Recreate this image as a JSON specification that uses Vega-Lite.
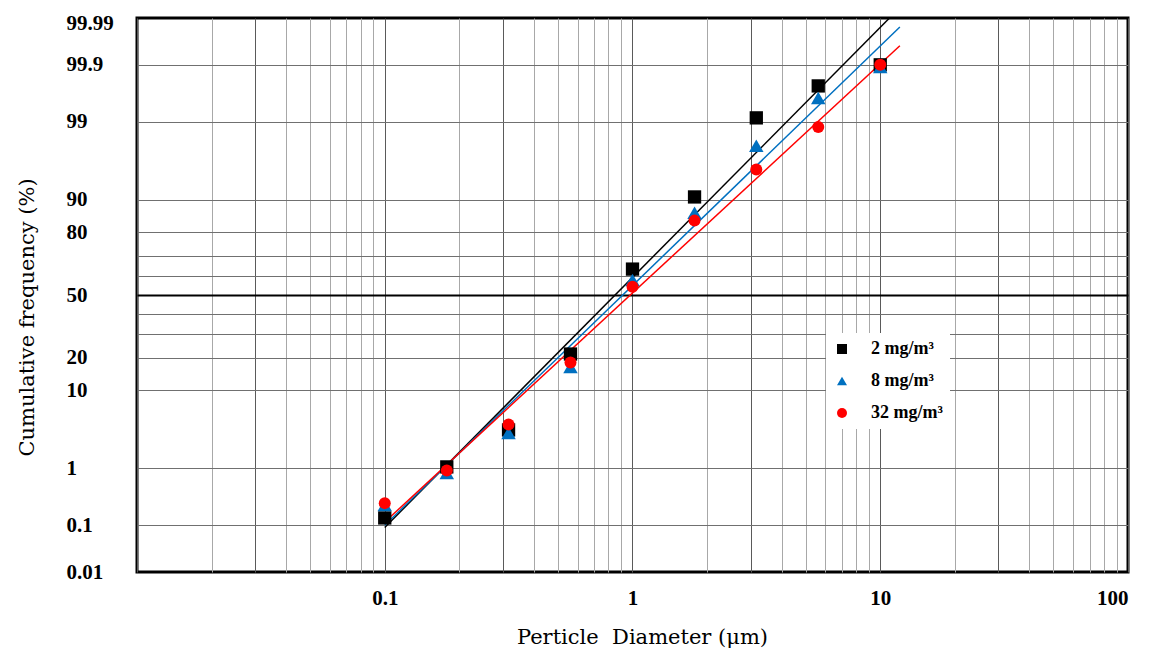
{
  "$schema": "https://vega.github.io/schema/vega-lite/v6.json",
  "width": 991,
  "height": 554,
  "autosize": {"type": "none"},
  "padding": {"left": 137, "top": 18, "right": 21, "bottom": 76},
  "background": "white",
  "config": {
    "view": {"stroke": "#000000", "strokeWidth": 3},
    "font": "Liberation Serif",
    "legend": {
      "orient": "none", "legendX": 689, "legendY": 315,
      "fillColor": "#ffffff", "padding": 7, "symbolSize": 100, "labelOffset": 20, "rowPadding": 14,
      "labelFont": "Liberation Serif", "labelFontWeight": "bold", "labelFontSize": 18, "labelColor": "#000000",
      "symbolStrokeWidth": 0
    }
  },
  "datasets": {
    "points": [
      {"series": "2 mg/m³", "d": 0.1, "p": 0.138},
      {"series": "2 mg/m³", "d": 0.178, "p": 1.05},
      {"series": "2 mg/m³", "d": 0.316, "p": 3.5},
      {"series": "2 mg/m³", "d": 0.562, "p": 21.4},
      {"series": "2 mg/m³", "d": 1, "p": 63.6},
      {"series": "2 mg/m³", "d": 1.78, "p": 90.6},
      {"series": "2 mg/m³", "d": 3.16, "p": 99.13},
      {"series": "2 mg/m³", "d": 5.62, "p": 99.75},
      {"series": "2 mg/m³", "d": 10, "p": 99.9},
      {"series": "8 mg/m³", "d": 0.1, "p": 0.24},
      {"series": "8 mg/m³", "d": 0.178, "p": 0.84},
      {"series": "8 mg/m³", "d": 0.316, "p": 3.2},
      {"series": "8 mg/m³", "d": 0.562, "p": 16.7},
      {"series": "8 mg/m³", "d": 1, "p": 58},
      {"series": "8 mg/m³", "d": 1.78, "p": 86.5},
      {"series": "8 mg/m³", "d": 3.16, "p": 97.75},
      {"series": "8 mg/m³", "d": 5.62, "p": 99.59},
      {"series": "8 mg/m³", "d": 10, "p": 99.89},
      {"series": "32 mg/m³", "d": 0.1, "p": 0.26},
      {"series": "32 mg/m³", "d": 0.178, "p": 0.92},
      {"series": "32 mg/m³", "d": 0.316, "p": 4.1},
      {"series": "32 mg/m³", "d": 0.562, "p": 18.2},
      {"series": "32 mg/m³", "d": 1, "p": 54.4},
      {"series": "32 mg/m³", "d": 1.78, "p": 84.1},
      {"series": "32 mg/m³", "d": 3.16, "p": 95.4},
      {"series": "32 mg/m³", "d": 5.62, "p": 98.8},
      {"series": "32 mg/m³", "d": 10, "p": 99.9}
    ],
    "fits": [
      {"series": "2 mg/m³", "d": 0.1, "p": 0.09},
      {"series": "2 mg/m³", "d": 10.9, "p": 99.99},
      {"series": "8 mg/m³", "d": 0.1, "p": 0.1},
      {"series": "8 mg/m³", "d": 12.0, "p": 99.984},
      {"series": "32 mg/m³", "d": 0.1, "p": 0.115},
      {"series": "32 mg/m³", "d": 12.0, "p": 99.959}
    ]
  },
  "layer": [
    {
      "data": {"name": "fits"},
      "transform": [{"calculate": "quantileNormal(datum.p / 100)", "as": "z"}],
      "mark": {"type": "line", "strokeWidth": 1.5, "clip": true},
      "encoding": {
        "x": {
          "field": "d", "type": "quantitative",
          "scale": {"type": "log", "domain": [0.01, 100], "nice": false},
          "axis": {
            "orient": "top",
            "values": [0.01, 0.02, 0.03, 0.04, 0.05, 0.06, 0.07, 0.08, 0.09, 0.1, 0.2, 0.3, 0.4, 0.5, 0.6, 0.7, 0.8, 0.9, 1, 2, 3, 4, 5, 6, 7, 8, 9, 10, 20, 30, 40, 50, 60, 70, 80, 90, 100],
            "labels": false, "ticks": false, "domain": false, "title": null,
            "grid": true,
            "gridColor": {"condition": {"test": "datum.value === 0.01 || datum.value === 0.03 || datum.value === 0.1 || datum.value === 0.3 || datum.value === 1 || datum.value === 3 || datum.value === 10 || datum.value === 30 || datum.value === 100", "value": "#5a5a5a"}, "value": "#a8a8a8"},
            "gridWidth": 1
          }
        },
        "y": {
          "field": "z", "type": "quantitative",
          "scale": {"domain": [-3.719016, 3.719016], "nice": false, "zero": false},
          "axis": {
            "orient": "right",
            "values": [-3.090232, -2.326348, -1.281552, -0.841621, -0.524401, -0.253347, 0, 0.253347, 0.524401, 0.841621, 1.281552, 2.326348, 3.090232],
            "labels": false, "ticks": false, "domain": false, "title": null,
            "grid": true,
            "gridColor": {"condition": {"test": "datum.value === 0", "value": "#000000"}, "value": "#707070"},
            "gridWidth": {"condition": {"test": "datum.value === 0", "value": 2}, "value": 1}
          }
        },
        "stroke": {"field": "series", "type": "nominal", "scale": {"domain": ["32 mg/m³", "8 mg/m³", "2 mg/m³"], "range": ["#FF0000", "#0070C0", "#000000"]}, "legend": null},
        "detail": {"field": "series"}
      }
    },
    {
      "data": {"name": "points"},
      "transform": [{"calculate": "quantileNormal(datum.p / 100)", "as": "z"}],
      "mark": {"type": "point", "filled": true, "opacity": 1},
      "encoding": {
        "x": {
          "field": "d", "type": "quantitative",
          "scale": {"type": "log", "domain": [0.01, 100], "nice": false},
          "axis": {
            "orient": "bottom",
            "values": [0.1, 1, 10, 100],
            "format": "~g",
            "labelOverlap": false,
            "labelFont": "Liberation Serif", "labelFontWeight": "bold", "labelFontSize": 21, "labelColor": "#000000",
            "labelPadding": 15, "ticks": false, "tickSize": 0, "domain": false,
            "grid": false,
            "title": "Perticle\u00a0 Diameter (μm)",
            "titleFont": "DejaVu Serif", "titleFontWeight": "normal", "titleFontSize": 21, "titleColor": "#000000",
            "titleX": 505, "titleY": 71, "titleBaseline": "alphabetic", "titleAlign": "center"
          }
        },
        "y": {
          "field": "z", "type": "quantitative",
          "scale": {"domain": [-3.719016, 3.719016], "nice": false, "zero": false},
          "axis": {
            "orient": "left",
            "values": [-3.719016, -3.090232, -2.326348, -1.281552, -0.841621, 0, 0.841621, 1.281552, 2.326348, 3.090232, 3.719016],
            "labelExpr": "format(cumulativeNormal(datum.value) * 100, '.4~r')",
            "labelOverlap": false,
            "labelAlign": "left", "labelPadding": 71,
            "labelOffset": {"condition": {"test": "datum.value > 3.7", "value": 5}, "value": 0},
            "labelFont": "Liberation Serif", "labelFontWeight": "bold", "labelFontSize": 21, "labelColor": "#000000",
            "ticks": false, "tickSize": 0, "domain": false,
            "grid": false,
            "title": "Cumulative frequency (%)",
            "titleFont": "DejaVu Serif", "titleFontWeight": "normal", "titleFontSize": 21, "titleColor": "#000000",
            "titleX": -104, "titleY": 299, "titleBaseline": "alphabetic", "titleAlign": "center", "titleAngle": -90
          }
        },
        "color": {
          "field": "series", "type": "nominal",
          "scale": {"domain": ["2 mg/m³", "8 mg/m³", "32 mg/m³"], "range": ["#000000", "#0070C0", "#FF0000"]},
          "legend": {"title": null}
        },
        "shape": {
          "field": "series", "type": "nominal",
          "scale": {"domain": ["2 mg/m³", "8 mg/m³", "32 mg/m³"], "range": ["square", "triangle-up", "circle"]},
          "legend": {"title": null}
        },
        "size": {
          "field": "series", "type": "nominal",
          "scale": {"domain": ["8 mg/m³", "2 mg/m³", "32 mg/m³"], "range": [210, 144, 140]},
          "legend": null
        }
      }
    }
  ],
  "resolve": {"axis": {"x": "independent", "y": "independent"}}
}
